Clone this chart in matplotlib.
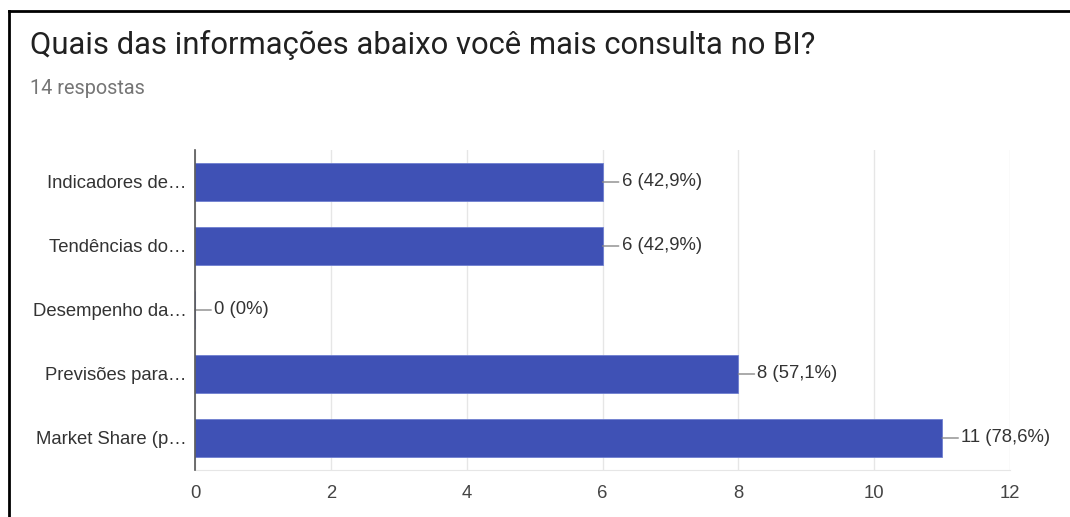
import matplotlib.pyplot as plt
from matplotlib.lines import Line2D

# data
categorias = ['Indicadores de…', 'Tendências do…', 'Desempenho da…',
              'Previsões para…', 'Market Share (p…']
valores = [6, 6, 0, 8, 11]
rotulos = ['6 (42,9%)', '6 (42,9%)', '0 (0%)', '8 (57,1%)', '11 (78,6%)']
xticks = [0, 2, 4, 6, 8, 10, 12]

plt.rcParams['font.family'] = ['Liberation Sans', 'DejaVu Sans']

fig = plt.figure(figsize=(10.7, 5.17), dpi=100)
ax = fig.add_axes([195/1070, 1 - 470/517, (1010 - 195)/1070, 320/517])

pos = list(range(len(categorias)))
ax.barh(pos, valores, height=0.6, color='#3f51b5', edgecolor='#6f7fd0',
        linewidth=0.6, zorder=3)

for i, (v, r) in enumerate(zip(valores, rotulos)):
    ax.annotate(r, xy=(v, i), xytext=(19, 0), textcoords='offset pixels',
                ha='left', va='center', fontsize=13.3, color='#333333',
                arrowprops=dict(arrowstyle='-', color='#888888', lw=1,
                                shrinkA=0, shrinkB=0), zorder=4)

ax.set_xlim(0, 12)
ax.set_ylim(4.5, -0.5)
ax.set_xticks(xticks)
ax.set_yticks(pos)
ax.set_yticklabels(categorias, fontsize=13.3, color='#333333')
ax.tick_params(axis='x', length=0, pad=11, labelsize=13.3, labelcolor='#444444')
ax.tick_params(axis='y', length=0, pad=6)
ax.grid(axis='x', color='#e6e6e6', lw=1, zorder=0)
for s in ['top', 'right']:
    ax.spines[s].set_visible(False)
ax.spines['bottom'].set_color('#e6e6e6')
ax.spines['left'].set_color('#555555')
ax.spines['left'].set_linewidth(1.2)
ax.spines['left'].set_zorder(5)

# titles
fig.text(30/1070, 1 - 45/517, 'Quais das informações abaixo você mais consulta no BI?',
         fontsize=22.3, family=['Roboto', 'DejaVu Sans'], color='#212121', va='center')
fig.text(30/1070, 1 - 88/517, '14 respostas', fontsize=14.3,
         family=['Roboto', 'DejaVu Sans'], color='#757575', va='center')

# frame lines
fig.add_artist(Line2D([8.5/1070, 1], [1 - 11/517, 1 - 11/517], color='black', lw=2))
fig.add_artist(Line2D([8.5/1070, 8.5/1070], [0, 1 - 11/517], color='black', lw=2))

plt.savefig('out.png', dpi=100)
